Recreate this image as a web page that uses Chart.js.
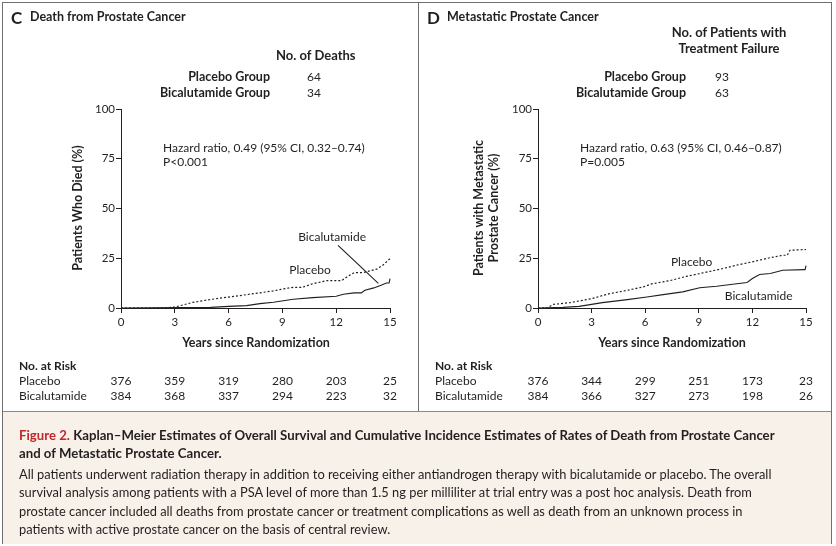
<!DOCTYPE html>
<html>
<head>
<meta charset="utf-8">
<script src="https://cdn.jsdelivr.net/npm/chart.js@4.4.0/dist/chart.umd.min.js"></script>
<style>
body { margin: 0; background: #fff; font-family: Lato, sans-serif; color: #231f20; }
#fig { position: relative; width: 836px; height: 546px; overflow: hidden; background: #fff; }
canvas { position: absolute; top: 0; }
.frame { position: absolute; left: 2px; top: 2px; width: 830px; height: 542px; border: 1px solid #6f6f6f; box-sizing: border-box; }
.divider { position: absolute; left: 418px; top: 2px; width: 1px; height: 410px; background: #6f6f6f; }
.t { position: absolute; white-space: nowrap; line-height: 1; }
.b { font-weight: bold; }
.caption { position: absolute; left: 3px; top: 411px; width: 828px; height: 132px; background: #f7f1e9; border-top: 1px solid #8a8a8a; }
.cap-title { position: absolute; left: 16px; top: 14px; font-size: 13.2px; font-weight: bold; line-height: 18px; white-space: nowrap; }
.cap-title .red { color: #c1272d; }
.cap-body { position: absolute; left: 16px; top: 53px; font-size: 12.85px; line-height: 18.4px; white-space: nowrap; }
</style>
</head>
<body>
<div id="fig">
  <canvas id="deathChart" width="418" height="410" style="left:0"></canvas>
  <canvas id="metChart" width="418" height="410" style="left:418px"></canvas>

  <div class="frame"></div>
  <div class="divider"></div>

  <!-- panel C header -->
  <div class="t b" style="left:11px;top:9px;font-size:17px">C</div>
  <div class="t b" style="left:30px;top:11px;font-size:12.5px">Death from Prostate Cancer</div>
  <div class="t b" style="left:276px;top:49px;font-size:13px">No. of Deaths</div>
  <div class="t b" style="right:566px;top:71px;font-size:12.5px">Placebo Group</div>
  <div class="t b" style="right:566px;top:87px;font-size:12.5px">Bicalutamide Group</div>
  <div class="t" style="left:307px;top:71px;font-size:12px">64</div>
  <div class="t" style="left:307px;top:87px;font-size:12px">34</div>
  <div class="t" style="left:163px;top:142px;font-size:12px">Hazard ratio, 0.49 (95% CI, 0.32–0.74)</div>
  <div class="t" style="left:163px;top:156px;font-size:12px">P&lt;0.001</div>
  <div class="t b" style="left:78px;top:208px;font-size:12.5px;transform:translate(-50%,-50%) rotate(-90deg)">Patients Who Died (%)</div>
  <div class="t b" style="left:256px;top:343px;font-size:12.5px;transform:translate(-50%,-50%)">Years since Randomization</div>

  <!-- panel D header -->
  <div class="t b" style="left:427px;top:9px;font-size:17px">D</div>
  <div class="t b" style="left:447px;top:11px;font-size:12.5px">Metastatic Prostate Cancer</div>
  <div class="t b" style="left:729px;top:40px;font-size:13px;text-align:center;line-height:16px;transform:translate(-50%,-50%)">No. of Patients with<br>Treatment Failure</div>
  <div class="t b" style="right:150px;top:71px;font-size:12.5px">Placebo Group</div>
  <div class="t b" style="right:150px;top:87px;font-size:12.5px">Bicalutamide Group</div>
  <div class="t" style="left:715px;top:71px;font-size:12px">93</div>
  <div class="t" style="left:715px;top:87px;font-size:12px">63</div>
  <div class="t" style="left:580px;top:142px;font-size:12px">Hazard ratio, 0.63 (95% CI, 0.46–0.87)</div>
  <div class="t" style="left:580px;top:156px;font-size:12px">P=0.005</div>
  <div class="t b" style="left:486px;top:208px;font-size:12.5px;text-align:center;line-height:15px;transform:translate(-50%,-50%) rotate(-90deg)">Patients with Metastatic<br>Prostate Cancer (%)</div>
  <div class="t b" style="left:672px;top:343px;font-size:12.5px;transform:translate(-50%,-50%)">Years since Randomization</div>

  <div class="caption">
    <div class="cap-title"><span class="red">Figure 2.</span> Kaplan–Meier Estimates of Overall Survival and Cumulative Incidence Estimates of Rates of Death from Prostate Cancer<br>and of Metastatic Prostate Cancer.</div>
    <div class="cap-body">All patients underwent radiation therapy in addition to receiving either antiandrogen therapy with bicalutamide or placebo. The overall<br>survival analysis among patients with a PSA level of more than 1.5 ng per milliliter at trial entry was a post hoc analysis. Death from<br>prostate cancer included all deaths from prostate cancer or treatment complications as well as death from an unknown process in<br>patients with active prostate cancer on the basis of central review.</div>
  </div>
</div>

<script>
// Axis ticks (years) and percent ticks
const riskYears = [0, 3, 6, 9, 12, 15];
const percentTicks = [0, 25, 50, 75, 100];
const groups = ['Placebo', 'Bicalutamide'];

// Panel C: death from prostate cancer (cumulative %)
const deathPlaceboX = [0, 2.5, 3, 4, 5, 6, 7, 8.5, 9.05, 9.6, 10.1, 10.7, 11.5, 12.3, 12.6, 13.0, 13.5, 14.25, 14.6, 15];
const deathPlaceboY = [0, 0, 0.5, 2.8, 4.3, 5.5, 6.7, 8.6, 9.6, 10.4, 10.4, 12.2, 13.8, 13.8, 15.6, 17.8, 17.8, 19.5, 21.5, 24.8];
const deathBicalX = [0, 5, 6, 7, 7.75, 8.5, 9.6, 10.7, 12, 12.4, 13, 13.4, 13.6, 14.1, 14.5, 14.8, 14.95, 15];
const deathBicalY = [0, 0.3, 0.8, 1.2, 2.2, 2.9, 4.4, 5.2, 5.9, 6.9, 7.6, 7.6, 8.9, 10.1, 11.4, 12.6, 12.6, 14.8];
const deathRiskPlacebo = [376, 359, 319, 280, 203, 25];
const deathRiskBical = [384, 368, 337, 294, 223, 32];

// Panel D: metastatic prostate cancer (cumulative %)
const metPlaceboX = [0, 0.5, 0.85, 1.8, 3, 4, 5, 5.9, 6.35, 7.4, 8.3, 9.05, 10.2, 11.1, 12, 13, 13.7, 13.95, 14.1, 15];
const metPlaceboY = [0, 0, 1.8, 2.7, 4.7, 7.2, 8.9, 10.6, 12.1, 13.8, 15.9, 17.3, 19.5, 21.5, 23.2, 25.3, 26.5, 26.5, 29, 29.4];
const metBicalX = [0, 1.4, 2.3, 3, 3.6, 5, 6.1, 7, 8.1, 9.05, 10, 10.9, 11.7, 12, 12.4, 13, 13.7, 14.9, 14.95, 15];
const metBicalY = [0, 0.3, 0.8, 1.8, 2.7, 4.2, 5.5, 6.7, 8.1, 10.2, 10.9, 11.9, 12.8, 14.8, 16.8, 17.3, 19, 19.3, 19.3, 21.3];
const metRiskPlacebo = [376, 344, 299, 251, 173, 23];
const metRiskBical = [384, 366, 327, 273, 198, 26];

// Leader line from "Bicalutamide" label to its curve in panel C
const deathLeaderX = [12.1, 14.35];
const deathLeaderY = [31.5, 12.4];

const INK = '#231f20';

function toPoints(xs, ys) {
    return xs.map((x, i) => ({ x: x, y: ys[i] }));
}

// Draws the curve labels and the No. at Risk table under the x axis
const extrasPlugin = {
    id: 'extras',
    afterDraw(chart, args, opts) {
        const { ctx, scales: { x, y } } = chart;
        ctx.save();
        ctx.fillStyle = INK;
        ctx.textBaseline = 'middle';

        ctx.font = '12px Lato';
        ctx.textAlign = 'center';
        opts.labels.forEach(l => {
            ctx.fillText(l.text, x.getPixelForValue(l.x), y.getPixelForValue(l.y));
        });

        ctx.textAlign = 'left';
        ctx.font = 'bold 12px Lato';
        ctx.fillText('No. at Risk', opts.tableLeft, 366);
        ctx.font = '12px Lato';
        opts.risk.forEach((row, i) => {
            const rowY = 381 + i * 15;
            ctx.textAlign = 'left';
            ctx.fillText(groups[i], opts.tableLeft, rowY);
            ctx.textAlign = 'center';
            row.forEach((v, j) => ctx.fillText(String(v), x.getPixelForValue(riskYears[j]), rowY));
        });
        ctx.restore();
    }
};

function makeChart(id, datasets, axisWidth, rightPad, labels, risk, tableLeft) {
    return new Chart(document.getElementById(id), {
        type: 'scatter',
        data: { datasets: datasets },
        options: {
            responsive: false,
            animation: false,
            layout: { padding: { left: 0, right: rightPad, top: 109, bottom: 54 } },
            plugins: {
                legend: { display: false },
                tooltip: { enabled: false },
                extras: { labels: labels, risk: risk, tableLeft: tableLeft }
            },
            scales: {
                x: {
                    type: 'linear', min: 0, max: 15,
                    afterFit: s => { s.height = 48; },
                    afterBuildTicks: s => { s.ticks = riskYears.map(v => ({ value: v })); },
                    ticks: { color: INK, font: { family: 'Lato', size: 11.5 }, padding: 2, maxRotation: 0 },
                    grid: { drawOnChartArea: false, drawTicks: true, tickLength: 5, color: INK },
                    border: { display: true, color: INK, width: 1 }
                },
                y: {
                    type: 'linear', min: 0, max: 100,
                    afterFit: s => { s.width = axisWidth; },
                    afterBuildTicks: s => { s.ticks = percentTicks.map(v => ({ value: v })); },
                    ticks: { color: INK, font: { family: 'Lato', size: 11.5 }, padding: 1 },
                    grid: { drawOnChartArea: false, drawTicks: true, tickLength: 5, color: INK },
                    border: { display: true, color: INK, width: 1 }
                }
            }
        },
        plugins: [extrasPlugin]
    });
}

function curve(points, dashed) {
    return {
        data: points,
        showLine: true,
        borderColor: INK,
        borderWidth: dashed ? 1.2 : 1.1,
        borderDash: dashed ? [2, 2] : [],
        pointRadius: 0,
        tension: 0,
        clip: false
    };
}

document.addEventListener('DOMContentLoaded', () => {
    makeChart('deathChart', [
        curve(toPoints(deathPlaceboX, deathPlaceboY), true),
        curve(toPoints(deathBicalX, deathBicalY), false),
        curve(toPoints(deathLeaderX, deathLeaderY), false)
    ], 121, 28, [
        { text: 'Bicalutamide', x: 11.77, y: 35.7 },
        { text: 'Placebo', x: 10.54, y: 19.1 }
    ], [deathRiskPlacebo, deathRiskBical], 19);

    makeChart('metChart', [
        curve(toPoints(metPlaceboX, metPlaceboY), true),
        curve(toPoints(metBicalX, metBicalY), false)
    ], 120, 30, [
        { text: 'Placebo', x: 8.6, y: 23.3 },
        { text: 'Bicalutamide', x: 12.35, y: 6.0 }
    ], [metRiskPlacebo, metRiskBical], 17);
});
</script>
</body>
</html>
